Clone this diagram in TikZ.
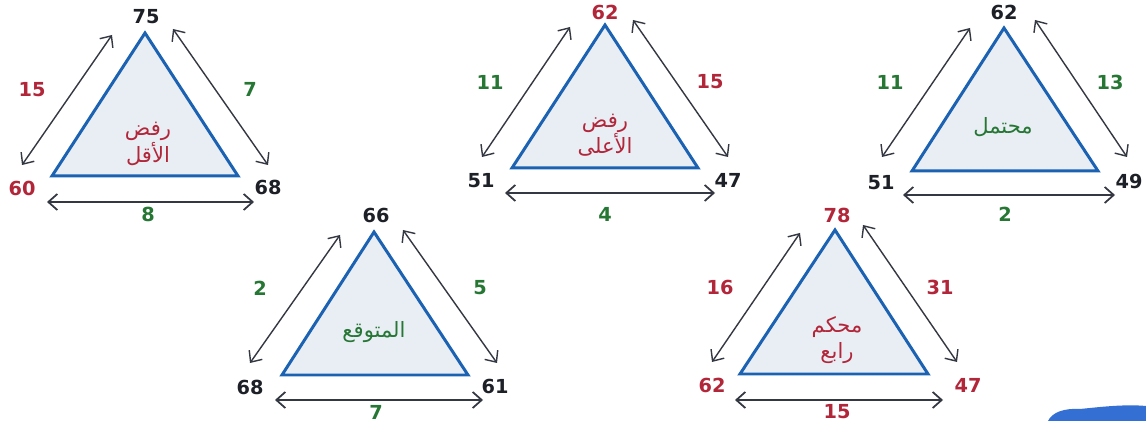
\documentclass[tikz,border=0pt]{standalone}
\usepackage{fontspec}
\setmainfont{DejaVu Sans}
\newfontfamily\arabicfont[Script=Arabic]{DejaVu Sans}
\TeXXeTstate=1
\usetikzlibrary{arrows.meta}
\definecolor{nred}{RGB}{178,38,58}
\definecolor{ngreen}{RGB}{38,118,52}
\definecolor{ndark}{RGB}{30,32,40}
\definecolor{tblue}{RGB}{28,98,178}
\definecolor{tfill}{RGB}{233,238,245}
\definecolor{arrgray}{RGB}{52,56,66}
\definecolor{brush}{RGB}{52,112,212}
\tikzset{
  tri/.style={draw=tblue, line width=1.7pt, fill=tfill, line join=miter},
  num/.style={font=\fontsize{11}{12}\selectfont\bfseries, inner sep=0pt},
  rednum/.style={num, text=nred},
  greennum/.style={num, text=ngreen},
  darknum/.style={num, text=ndark},
  arlabel/.style={font=\fontsize{12}{15}\selectfont\arabicfont, align=center, inner sep=0pt},
  dbl/.style={draw=arrgray, line width=0.8pt, {Straight Barb[length=1.8mm,width=3.2mm]}-{Straight Barb[length=1.8mm,width=3.2mm]}},
  dblb/.style={dbl, line width=1pt}
}
\begin{document}
\begin{tikzpicture}[x=0.02cm,y=-0.02cm]
\path[fill=white] (0,0) rectangle (1146,421);
\useasboundingbox (0,0) rectangle (1146,421);

% ---------- Triangle 1 ----------
\coordinate (a1) at (145,33); \coordinate (b1) at (52,176); \coordinate (c1) at (238,176);
\draw[tri] (a1) -- (b1) -- (c1) -- cycle;
\node[arlabel, text=nred] (t1) at (148,144) {رفض\\الأقل};
\node[darknum] (v1a) at (146,17) {75};
\node[rednum] (v1b) at (22,188) {60};
\node[darknum] (v1c) at (268,187) {68};
\node[rednum] (e1l) at (32,90) {15};
\node[greennum] (e1r) at (250,89) {7};
\node[greennum] (e1b) at (148,214) {8};
\coordinate (p1l1) at (22,165); \coordinate (p1l2) at (112,35);
\coordinate (p1r1) at (173,29); \coordinate (p1r2) at (268,165);
\coordinate (p1b1) at (47,202); \coordinate (p1b2) at (254,202);
\draw[dbl] (p1l1) -- (p1l2);
\draw[dbl] (p1r1) -- (p1r2);
\draw[dblb] (p1b1) -- (p1b2);

% ---------- Triangle 2 ----------
\coordinate (a2) at (605,25); \coordinate (b2) at (512,168); \coordinate (c2) at (698,168);
\draw[tri] (a2) -- (b2) -- (c2) -- cycle;
\node[arlabel, text=nred] (t2) at (605,135) {رفض\\الأعلى};
\node[rednum] (v2a) at (605,12) {62};
\node[darknum] (v2b) at (481,181) {51};
\node[darknum] (v2c) at (728,180) {47};
\node[greennum] (e2l) at (490,82) {11};
\node[rednum] (e2r) at (710,82) {15};
\node[greennum] (e2b) at (605,214) {4};
\coordinate (p2l1) at (482,157); \coordinate (p2l2) at (570,27);
\coordinate (p2r1) at (633,20); \coordinate (p2r2) at (728,157);
\coordinate (p2b1) at (505,193); \coordinate (p2b2) at (715,193);
\draw[dbl] (p2l1) -- (p2l2);
\draw[dbl] (p2r1) -- (p2r2);
\draw[dblb] (p2b1) -- (p2b2);

% ---------- Triangle 3 ----------
\coordinate (a3) at (1004,28); \coordinate (b3) at (912,171); \coordinate (c3) at (1098,171);
\draw[tri] (a3) -- (b3) -- (c3) -- cycle;
\node[arlabel, text=ngreen] (t3) at (1003,127) {محتمل};
\node[darknum] (v3a) at (1004,12) {62};
\node[darknum] (v3b) at (881,183) {51};
\node[darknum] (v3c) at (1129,181) {49};
\node[greennum] (e3l) at (890,82) {11};
\node[greennum] (e3r) at (1110,82) {13};
\node[greennum] (e3b) at (1005,214) {2};
\coordinate (p3l1) at (882,157); \coordinate (p3l2) at (970,28);
\coordinate (p3r1) at (1035,20); \coordinate (p3r2) at (1127,157);
\coordinate (p3b1) at (903,195); \coordinate (p3b2) at (1115,195);
\draw[dbl] (p3l1) -- (p3l2);
\draw[dbl] (p3r1) -- (p3r2);
\draw[dblb] (p3b1) -- (p3b2);

% ---------- Triangle 4 ----------
\coordinate (a4) at (374,232); \coordinate (b4) at (282,375); \coordinate (c4) at (468,375);
\draw[tri] (a4) -- (b4) -- (c4) -- cycle;
\node[arlabel, text=ngreen] (t4) at (374,332) {المتوقع};
\node[darknum] (v4a) at (376,215) {66};
\node[darknum] (v4b) at (250,387) {68};
\node[darknum] (v4c) at (495,386) {61};
\node[greennum] (e4l) at (260,288) {2};
\node[greennum] (e4r) at (480,288) {5};
\node[greennum] (e4b) at (376,412) {7};
\coordinate (p4l1) at (250,363); \coordinate (p4l2) at (340,235);
\coordinate (p4r1) at (403,230); \coordinate (p4r2) at (497,363);
\coordinate (p4b1) at (275,400); \coordinate (p4b2) at (483,400);
\draw[dbl] (p4l1) -- (p4l2);
\draw[dbl] (p4r1) -- (p4r2);
\draw[dblb] (p4b1) -- (p4b2);

% ---------- Triangle 5 ----------
\coordinate (a5) at (835,230); \coordinate (b5) at (740,374); \coordinate (c5) at (928,374);
\draw[tri] (a5) -- (b5) -- (c5) -- cycle;
\node[arlabel, text=nred] (t5) at (837,340) {محكم\\رابع};
\node[rednum] (v5a) at (837,215) {78};
\node[rednum] (v5b) at (712,385) {62};
\node[rednum] (v5c) at (968,385) {47};
\node[rednum] (e5l) at (720,287) {16};
\node[rednum] (e5r) at (940,287) {31};
\node[rednum] (e5b) at (837,412) {15};
\coordinate (p5l1) at (712,362); \coordinate (p5l2) at (800,233);
\coordinate (p5r1) at (863,225); \coordinate (p5r2) at (957,362);
\coordinate (p5b1) at (735,400); \coordinate (p5b2) at (943,400);
\draw[dbl] (p5l1) -- (p5l2);
\draw[dbl] (p5r1) -- (p5r2);
\draw[dblb] (p5b1) -- (p5b2);

% ---------- brush stroke (bottom right) ----------
\fill[brush] (1048,421) .. controls (1052,412) and (1065,408) .. (1080,409)
  .. controls (1100,407) and (1125,404) .. (1146,406) -- (1146,421) -- cycle;
\end{tikzpicture}
\end{document}
